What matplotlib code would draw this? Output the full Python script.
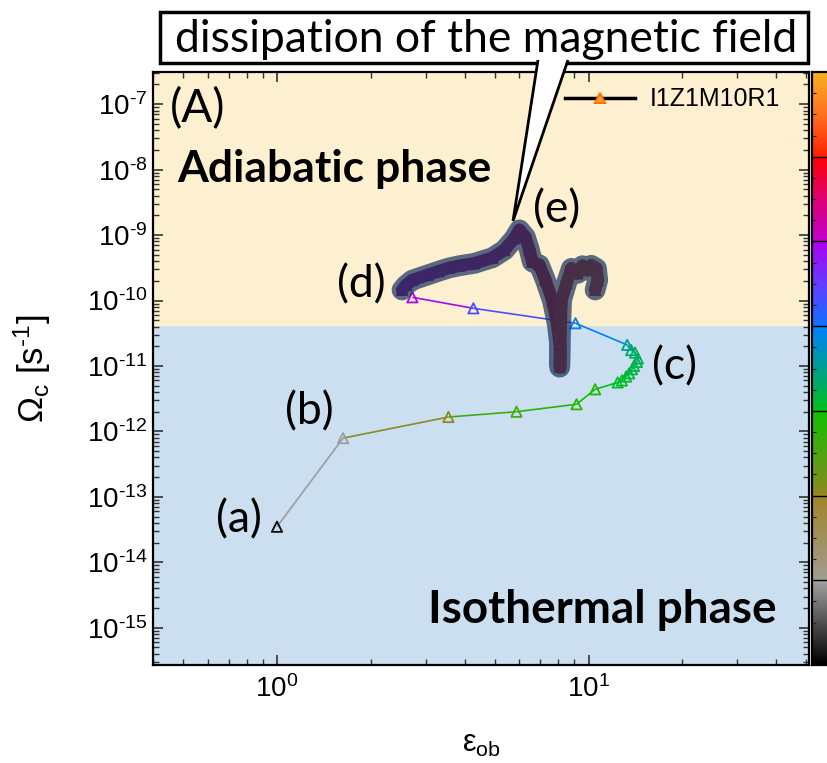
import matplotlib
matplotlib.use('Agg')
import matplotlib.pyplot as plt
import numpy as np
from matplotlib.colors import LinearSegmentedColormap
from matplotlib.collections import LineCollection
from matplotlib.lines import Line2D
from matplotlib.patches import Polygon, Rectangle

plt.rcParams['font.family'] = ['Liberation Sans', 'DejaVu Sans']
plt.rcParams['mathtext.fontset'] = 'custom'
plt.rcParams['mathtext.rm'] = 'Liberation Sans'
plt.rcParams['mathtext.it'] = 'Liberation Sans:italic'
plt.rcParams['mathtext.bf'] = 'Liberation Sans:bold'

# track of the core: eps_ob, Omega_c and colour value (0..1 along the colorbar)
eps = [1.00, 1.63, 3.55, 5.87, 9.15, 10.5, 12.4, 12.8, 13.2, 13.5,
       13.8, 14.0, 14.3, 14.4, 14.1, 13.7, 13.3, 9.08, 4.27, 2.72,
       2.52, 2.60, 2.72, 3.04, 3.30, 3.57, 3.85, 4.30, 4.91, 5.37,
       5.78, 6.00, 6.27, 6.46, 6.60, 6.95, 7.27, 7.66, 7.95, 8.08,
       8.08, 8.13, 8.19, 8.50, 8.81, 9.22, 9.56, 9.93, 10.2, 10.6,
       10.7, 10.5]
omega = [3.5e-14, 7.9e-13, 1.66e-12, 2.0e-12, 2.6e-12, 4.4e-12, 5.6e-12, 6.0e-12, 6.9e-12, 7.7e-12,
         8.9e-12, 1.0e-11, 1.15e-11, 1.3e-11, 1.6e-11, 1.75e-11, 2.1e-11, 4.5e-11, 7.6e-11, 1.12e-10,
         1.45e-10, 1.73e-10, 2.05e-10, 2.45e-10, 2.8e-10, 3.15e-10, 3.4e-10, 3.7e-10, 4.5e-10, 5.9e-10,
         8.9e-10, 1.2e-9, 9.3e-10, 5.9e-10, 3.9e-10, 3.5e-10, 2.05e-10, 1.0e-10, 4.2e-11, 2.1e-11,
         9.6e-12, 3.5e-11, 1.02e-10, 1.85e-10, 3.1e-10, 2.6e-10, 3.4e-10, 2.9e-10, 3.45e-10, 3.1e-10,
         2.05e-10, 1.45e-10]
cval = [0.01, 0.14, 0.29, 0.37, 0.41, 0.42, 0.43, 0.435, 0.44, 0.445,
        0.45, 0.455, 0.46, 0.465, 0.47, 0.48, 0.50, 0.57, 0.62, 0.70,
        0.72, 0.725, 0.73, 0.735, 0.74, 0.745, 0.75, 0.755, 0.76, 0.77,
        0.78, 0.79, 0.80, 0.81, 0.82, 0.83, 0.84, 0.845, 0.85, 0.855,
        0.86, 0.862, 0.864, 0.866, 0.868, 0.87, 0.872, 0.874, 0.876, 0.878,
        0.88, 0.882]
i_dissip = 19          # start of the highlighted (field dissipation) part

omega_boundary = 4.2e-11   # adiabatic / isothermal transition

stage_labels = ['(a)', '(b)', '(c)', '(d)', '(e)']
stage_eps = [0.755, 1.27, 18.9, 1.86, 7.89]
stage_omega = [4.5e-14, 2.0e-12, 9.6e-12, 1.73e-10, 2.4e-9]

cmap = LinearSegmentedColormap.from_list('track', [
    (0.000, '#000000'), (0.143, '#a4a4a4'),
    (0.145, '#a09c90'), (0.286, '#a08428'),
    (0.288, '#8c8a20'), (0.429, '#10c000'),
    (0.431, '#00c020'), (0.500, '#00a090'), (0.571, '#0080ff'),
    (0.573, '#1070ff'), (0.640, '#6040ff'), (0.714, '#b000f0'),
    (0.716, '#c000d0'), (0.790, '#e00070'), (0.857, '#ff0000'),
    (0.859, '#ff2000'), (0.930, '#ff7020'), (1.000, '#f8b020'),
])


def tick_fmt(v, pos):
    e = int(round(np.log10(v)))
    if e < 0:
        return r'10$^{\text{-}%d}$' % (-e)
    return r'10$^{%d}$' % e


fig = plt.figure(figsize=(8.27, 7.63), dpi=100)
W, H = 827.0, 763.0
ax = fig.add_axes([153 / W, 1 - 665 / H, 656 / W, 593 / H])

ax.set_xscale('log')
ax.set_yscale('log')
ax.set_xlim(0.4, 51)
ax.set_ylim(2.7e-16, 3.1e-7)

ax.axhspan(2.7e-16, omega_boundary, color='#cbdff0', zorder=0)
ax.axhspan(omega_boundary, 3.1e-7, color='#fdf0d0', zorder=0)

pts = np.column_stack([np.log10(eps), np.log10(omega)])
colors = cmap(np.array(cval))

# thin coloured track, each segment in the colour of its end point
segs = [np.power(10, pts[k:k + 2]) for k in range(i_dissip)]
ax.add_collection(LineCollection(segs, colors=colors[1:i_dissip + 1], linewidths=1.2, zorder=2))
ax.scatter(eps[:i_dissip + 1], omega[:i_dissip + 1], marker='^', s=55,
           facecolors='none', edgecolors=colors[:i_dissip + 1], linewidths=1.3, zorder=3)

# dense late part, then the translucent highlight on top
dark = colors.copy()
dark[:, :3] *= 0.7
segs2 = [np.power(10, pts[k:k + 2]) for k in range(i_dissip + 1, len(eps) - 1)]
ax.add_collection(LineCollection(segs2, colors=dark[i_dissip + 2:], linewidths=9,
                                 capstyle='round', joinstyle='round', zorder=4))
ax.scatter(eps[i_dissip + 1:], omega[i_dissip + 1:], marker='^', s=55,
           facecolors='none', edgecolors=dark[i_dissip + 1:], linewidths=1.3, zorder=4)
ax.plot(eps[i_dissip + 1:], omega[i_dissip + 1:], color='#1c3560', alpha=0.72, lw=15,
        solid_capstyle='round', solid_joinstyle='round', zorder=5)

ax.tick_params(which='both', direction='in', top=True, right=True, colors='#333333',
               labelcolor='black', labelsize=20)
ax.tick_params(which='major', length=7, width=1.2, pad=7)
ax.tick_params(which='minor', length=4, width=1.0)
ax.tick_params(axis='y', which='major', pad=4)
ax.set_yticks([10.0 ** k for k in range(-15, -6)])
ax.xaxis.set_major_formatter(matplotlib.ticker.FuncFormatter(tick_fmt))
ax.yaxis.set_major_formatter(matplotlib.ticker.FuncFormatter(tick_fmt))
ax.yaxis.set_minor_locator(matplotlib.ticker.LogLocator(base=10, subs=np.arange(2, 10), numticks=30))
ax.xaxis.set_minor_locator(matplotlib.ticker.LogLocator(base=10, subs=np.arange(2, 10), numticks=30))
ax.yaxis.set_minor_formatter(matplotlib.ticker.NullFormatter())
ax.xaxis.set_minor_formatter(matplotlib.ticker.NullFormatter())
for sp in ax.spines.values():
    sp.set_linewidth(1.6)

ax.set_xlabel(r'$\mathregular{\epsilon_{ob}}$', fontsize=22)
ax.xaxis.set_label_coords(0.5, -0.108)
ax.set_ylabel(r'$\mathregular{\Omega_c}$ [s$^{\text{-}1}$]', fontsize=25)
ax.yaxis.set_label_coords(-0.152, 0.5)

leg_handle = Line2D([], [], color='black', lw=2.5, marker='^', markersize=7,
                    markerfacecolor='#ffa040', markeredgecolor='#ff7000', markeredgewidth=1.5)
ax.legend([leg_handle], ['I1Z1M10R1'], loc='center left', bbox_to_anchor=(0.628, 0.954),
          frameon=False, fontsize=18, handlelength=2.8, handletextpad=0.6, borderpad=0,
          borderaxespad=0)

ax.text(0.026, 0.939, '(A)', transform=ax.transAxes, fontsize=33, family='Lato',
        ha='left', va='center')
ax.text(0.037, 0.836, 'Adiabatic phase', transform=ax.transAxes, fontsize=32, family='Lato',
        weight='bold', ha='left', va='center')
ax.text(0.951, 0.093, 'Isothermal phase', transform=ax.transAxes, fontsize=33, family='Lato',
        weight='bold', ha='right', va='center')
for lab, x, y in zip(stage_labels, stage_eps, stage_omega):
    ax.text(x, y, lab, fontsize=32, family='Lato', ha='center', va='center', zorder=6)

# colour bar at the right edge (cut by the figure border)
cax = fig.add_axes([812 / W, 1 - 665 / H, 0.04, 593 / H])
cax.imshow(np.linspace(0, 1, 512)[:, None], aspect='auto', cmap=cmap, origin='lower',
           extent=[0, 1, 0, 1])
for k in range(1, 7):
    cax.axhline(k / 7.0, color='black', lw=1)
cax.set_xticks([])
cax.set_yticks(np.arange(1, 28) / 28.0)
cax.tick_params(axis='y', direction='in', length=3, color='#222222', labelleft=False, left=True)
for sp in cax.spines.values():
    sp.set_linewidth(1.6)


def fx(px):
    return px / W


def fy(py):
    return 1 - py / H


# callout box
fig.add_artist(Rectangle((fx(160), fy(63)), (808 - 160) / W, (63 - 12) / H,
                         transform=fig.transFigure, facecolor='white', edgecolor='black',
                         lw=2.5, zorder=10))
fig.add_artist(Polygon([(fx(538), fy(60)), (fx(513), fy(221)), (fx(568), fy(60))], closed=False,
                       transform=fig.transFigure, facecolor='white', edgecolor='black',
                       lw=2.0, zorder=11))
fig.text(fx(486), fy(52), 'dissipation of the magnetic field', family='Lato', fontsize=32,
         ha='center', va='baseline', zorder=12)

plt.savefig('out.png', dpi=100)
plt.close()
